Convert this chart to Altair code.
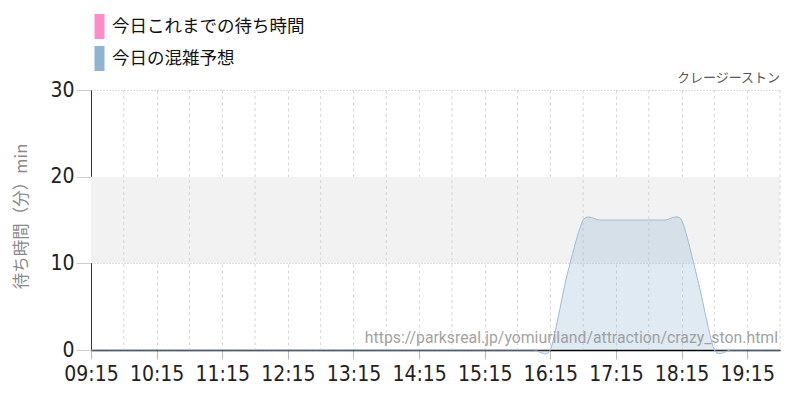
import altair as alt
import pandas as pd

# --- data ---
times = [
    "09:15", "09:30", "09:45", "10:00", "10:15", "10:30", "10:45", "11:00",
    "11:15", "11:30", "11:45", "12:00", "12:15", "12:30", "12:45", "13:00",
    "13:15", "13:30", "13:45", "14:00", "14:15", "14:30", "14:45", "15:00",
    "15:15", "15:30", "15:45", "16:00", "16:15", "16:30", "16:45", "17:00",
    "17:15", "17:30", "17:45", "18:00", "18:15", "18:30", "18:45", "19:00",
    "19:15", "19:30", "19:45",
]
forecast = [
    0, 0, 0, 0, 0, 0, 0, 0,
    0, 0, 0, 0, 0, 0, 0, 0,
    0, 0, 0, 0, 0, 0, 0, 0,
    0, 0, 0, 0, 0, 8.5, 15, 15,
    15, 15, 15, 15, 15, 8, 0, 0,
    0, 0, 0,
]
series_names = ["今日これまでの待ち時間", "今日の混雑予想"]
series_colors = ["#ff8ac8", "#8fb3d3"]
tick_labels = ["09:15", "10:15", "11:15", "12:15", "13:15", "14:15",
               "15:15", "16:15", "17:15", "18:15", "19:15"]
half_grid = ["09:45", "10:45", "11:45", "12:45", "13:45", "14:45",
             "15:45", "16:45", "17:45", "18:45", "19:45"]
y_ticks = [0, 10, 20, 30]
band = {"low": [10], "high": [20]}
attraction = "クレージーストン"
watermark = "https://parksreal.jp/yomiuriland/attraction/crazy_ston.html"


def to_min(s):
    h, m = s.split(":")
    return int(h) * 60 + int(m)


df = pd.DataFrame({
    "m": [to_min(t) for t in times],
    "v": forecast,
    "s": series_names[1],
})
grid_df = pd.DataFrame({"m": [to_min(t) for t in half_grid]})
band_df = pd.DataFrame(band)
wm_df = pd.DataFrame({"t": [watermark]})
title_df = pd.DataFrame({"t": [attraction]})

label_expr = ("(floor(datum.value/60) < 10 ? '0' : '') + floor(datum.value/60) + ':' + "
              "(datum.value % 60 < 10 ? '0' : '') + (datum.value % 60)")

num_font = "DejaVu Sans Condensed, Roboto, sans-serif"
cjk_font = "Noto Sans CJK JP"

x_enc = alt.X(
    "m:Q",
    scale=alt.Scale(domain=[to_min(times[0]), to_min(times[-1])], nice=False, zero=False),
    axis=alt.Axis(
        title=None,
        values=[to_min(t) for t in tick_labels],
        labelExpr=label_expr,
        labelFont=num_font,
        labelFontSize=21,
        labelColor="#222",
        labelPadding=4,
        tickColor="#bbb",
        tickSize=9,
        domainColor="#000",
        domainWidth=1.5,
        grid=True,
        gridColor="#d6d6d6",
        gridDash=[3, 3],
        labelFlush=False,
        labelOverlap=False,
    ),
)

y_axis = alt.Axis(
    title="待ち時間（分）min",
    titleFont=cjk_font,
    titleFontSize=16.5,
    titleFontWeight="normal",
    titleColor="#888",
    titleX=-62,
    titleY=126,
    titleAlign="center",
    titleBaseline="bottom",
    values=y_ticks,
    labelFont=num_font,
    labelFontSize=21,
    labelColor="#222",
    labelPadding=2,
    tickColor="#ccc",
    tickSize=15,
    domainColor="#333",
    grid=True,
    gridColor="#bbb",
    gridDash=[1, 2],
)

y_scale = alt.Scale(domain=[0, 30], nice=False)

band_layer = alt.Chart(band_df).mark_rect(color="#f2f2f2").encode(
    y=alt.Y("low:Q", scale=y_scale, axis=y_axis),
    y2="high:Q",
)

grid_layer = alt.Chart(grid_df).mark_rule(
    color="#d6d6d6", strokeDash=[3, 3], strokeWidth=1
).encode(x=x_enc)

area_layer = alt.Chart(df).mark_area(
    interpolate="cardinal", tension=0.3, fillOpacity=0.28, clip=False
).encode(
    x=x_enc,
    y=alt.Y("v:Q", scale=y_scale, axis=y_axis),
    color=alt.Color(
        "s:N",
        scale=alt.Scale(domain=series_names, range=series_colors),
        legend=alt.Legend(
            orient="none",
            legendX=-4,
            legendY=-76,
            title=None,
            symbolType="M-0.4,-1h0.8v2h-0.8z",
            symbolSize=625,
            symbolOpacity=1,
            symbolStrokeWidth=0,
            labelFont=cjk_font,
            labelFontSize=17.5,
            labelColor="#111",
            labelLimit=0,
            labelOffset=0,
            rowPadding=7,
            padding=0,
        ),
    ),
)

line_layer = alt.Chart(df).mark_line(
    interpolate="cardinal", tension=0.3, color="#9dbcd9", strokeWidth=1
).encode(
    x=x_enc,
    y=alt.Y("v:Q", scale=y_scale, axis=y_axis),
)

wm_layer = alt.Chart(wm_df).mark_text(
    align="right", baseline="middle", fontSize=15.8, font="Roboto", color="#999", opacity=0.9
).encode(
    text="t:N",
    x=alt.value(687),
    y=alt.value(248),
)

title_layer = alt.Chart(title_df).mark_text(
    align="right", baseline="middle", fontSize=13, font=cjk_font, color="#555"
).encode(
    text="t:N",
    x=alt.value(689),
    y=alt.value(-12),
)

chart = alt.layer(
    band_layer, grid_layer, area_layer, line_layer, wm_layer, title_layer
).properties(
    width=689,
    height=260,
    autosize=alt.AutoSizeParams(type="none"),
    padding={"left": 83, "top": 82, "right": 12, "bottom": 42},
).configure_view(stroke=None)

chart.save("out.html", embed_options={"renderer": "svg", "actions": False})
